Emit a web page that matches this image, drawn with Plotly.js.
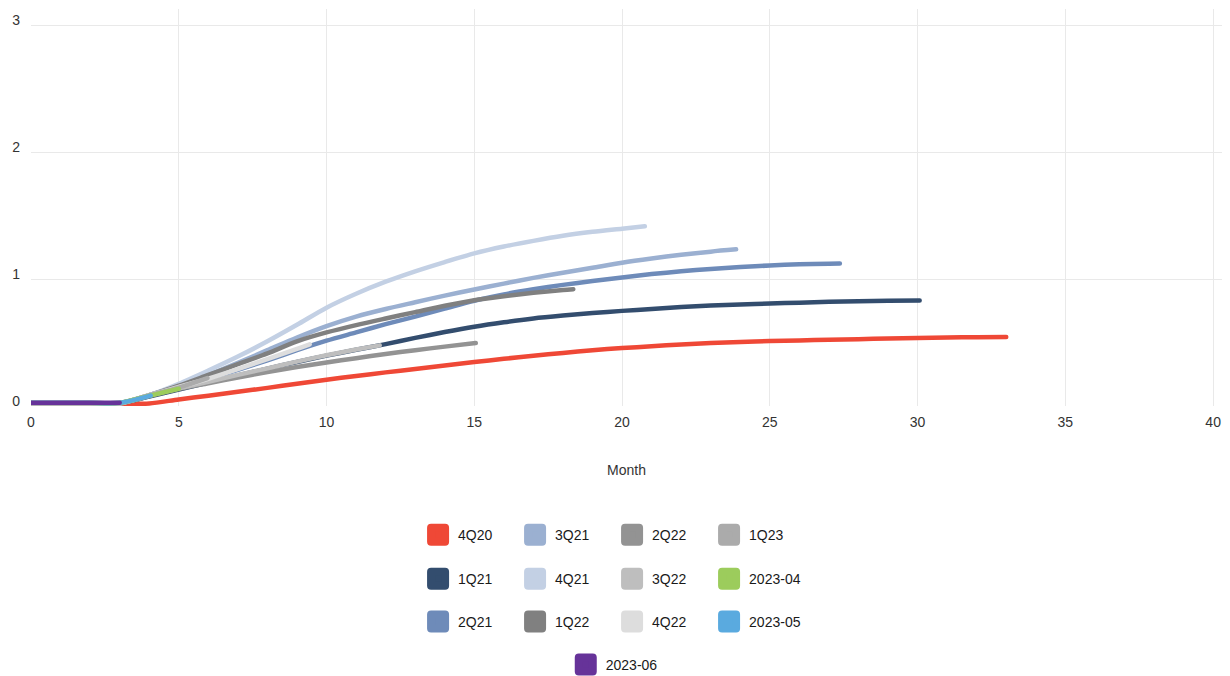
<!DOCTYPE html>
<html>
<head>
<meta charset="utf-8">
<script src="https://cdn.plot.ly/plotly-3.0.1.min.js"></script>
<style>
  html, body { margin: 0; padding: 0; background: #ffffff; }
  #chart { width: 1230px; height: 676px; }
  .legendpoints path { stroke-width: 8px !important; stroke-linejoin: round !important; }
  .scatterlayer .js-line { stroke-linecap: round; stroke-linejoin: round; }
</style>
</head>
<body>
<div id="chart"></div>
<script>
// ---- Data ----
const seriesNames = ["4Q20","1Q21","2Q21","3Q21","4Q21","1Q22","2Q22","3Q22","4Q22","1Q23","2023-04","2023-05","2023-06"];
const seriesColors = ["#EF4836","#334D6E","#6E8BB9","#9BB0D1","#C3D0E4","#808080","#939393","#BEBEBE","#DDDDDD","#ABABAB","#9CCC5C","#5AAADF","#663399"];
const legendRow = ["legend","legend2","legend3","legend","legend2","legend3","legend","legend2","legend3","legend","legend2","legend3","legend4"];

const x_4Q20 = [0,1,2,3,4,5,6,7,8,9,10,11,12,13,14,15,16,17,18,19,20,21,22,23,24,25,26,27,28,29,30,31,32,33];
const y_4Q20 = [0.018,0.018,0.018,0.018,0.02,0.052,0.081,0.112,0.143,0.175,0.207,0.237,0.265,0.292,0.32,0.347,0.372,0.397,0.418,0.44,0.457,0.471,0.485,0.497,0.505,0.512,0.517,0.522,0.527,0.532,0.537,0.54,0.542,0.544];

const x_1Q21 = [0,1,2,3,4,5,6,7,8,9,10,11,12,13,14,15,16,17,18,19,20,21,22,23,24,25,26,27,28,29,30.07];
const y_1Q21 = [0.02,0.02,0.02,0.022,0.075,0.13,0.185,0.24,0.295,0.347,0.397,0.443,0.488,0.537,0.583,0.625,0.66,0.69,0.713,0.733,0.75,0.765,0.78,0.792,0.801,0.808,0.815,0.821,0.826,0.83,0.832];

const x_2Q21 = [0,1,2,3,4,5,6,7,8,9,10,11,12,13,14,15,16,17,18,19,20,21,22,23,24,25,26,27,27.37];
const y_2Q21 = [0.02,0.02,0.02,0.022,0.08,0.15,0.215,0.285,0.36,0.44,0.515,0.58,0.645,0.705,0.768,0.83,0.88,0.92,0.955,0.985,1.013,1.04,1.062,1.08,1.095,1.108,1.117,1.122,1.124];

const x_3Q21 = [0,1,2,3,4,5,6,7,8,9,10,11,12,13,14,15,16,17,18,19,20,21,22,23,23.86];
const y_3Q21 = [0.02,0.02,0.02,0.022,0.085,0.16,0.245,0.34,0.44,0.54,0.63,0.705,0.765,0.818,0.87,0.918,0.965,1.01,1.05,1.09,1.13,1.163,1.192,1.217,1.235];

const x_4Q21 = [0,1,2,3,4,5,6,7,8,9,10,11,12,13,14,15,16,17,18,19,20,20.77];
const y_4Q21 = [0.02,0.02,0.02,0.022,0.085,0.175,0.28,0.39,0.51,0.64,0.775,0.885,0.98,1.062,1.135,1.203,1.257,1.302,1.342,1.373,1.398,1.417];

const x_1Q22 = [0,1,2,3,4,5,6,7,8,9,10,11,12,13,14,15,16,17,18,18.35];
const y_1Q22 = [0.02,0.02,0.02,0.022,0.085,0.16,0.245,0.33,0.415,0.51,0.58,0.638,0.69,0.74,0.79,0.834,0.865,0.892,0.915,0.921];

const x_2Q22 = [0,1,2,3,4,5,6,7,8,9,10,11,12,13,14,15.05];
const y_2Q22 = [0.02,0.02,0.02,0.02,0.08,0.135,0.18,0.225,0.268,0.307,0.343,0.377,0.41,0.44,0.468,0.496];

const x_3Q22 = [0,1,2,3,4,5,6,7,8,9,10,11,11.8];
const y_3Q22 = [0.02,0.02,0.02,0.02,0.085,0.14,0.19,0.245,0.297,0.35,0.40,0.445,0.478];

const x_4Q22 = [0,1,2,3,4,5,6,7,8,9,9.43];
const y_4Q22 = [0.02,0.02,0.02,0.022,0.085,0.15,0.215,0.29,0.37,0.45,0.486];

const x_1Q23 = [0,1,2,3,4,5,5.97];
const y_1Q23 = [0.02,0.02,0.02,0.022,0.085,0.145,0.22];

const x_2023_04 = [0,1,2,3,4,5];
const y_2023_04 = [0.025,0.025,0.025,0.025,0.08,0.136];

const x_2023_05 = [0,1,2,3,4.05];
const y_2023_05 = [0.025,0.025,0.025,0.025,0.082];

const x_2023_06 = [0,1,2,3];
const y_2023_06 = [0.025,0.025,0.025,0.025];

const seriesX = [x_4Q20,x_1Q21,x_2Q21,x_3Q21,x_4Q21,x_1Q22,x_2Q22,x_3Q22,x_4Q22,x_1Q23,x_2023_04,x_2023_05,x_2023_06];
const seriesY = [y_4Q20,y_1Q21,y_2Q21,y_3Q21,y_4Q21,y_1Q22,y_2Q22,y_3Q22,y_4Q22,y_1Q23,y_2023_04,y_2023_05,y_2023_06];

const xTicks = [0,5,10,15,20,25,30,35,40];
const yTicks = [0,1,2,3];

// ---- Traces ----
const FONT = "'Liberation Sans', Arial, Helvetica, sans-serif";
const traces = [];
seriesNames.forEach((name, i) => {
  traces.push({
    type: 'scatter', mode: 'lines', name: name,
    x: seriesX[i], y: seriesY[i],
    line: { color: seriesColors[i], width: 4.5, shape: 'spline', smoothing: 0.8 },
    showlegend: false,
    hovertemplate: name + ': %{y:.2f}<extra></extra>'
  });
});
// legend swatches (rounded squares)
seriesNames.forEach((name, i) => {
  traces.push({
    type: 'scatter', mode: 'markers', name: name,
    x: [null], y: [null],
    marker: { symbol: 'square', size: 14, color: seriesColors[i], line: { color: seriesColors[i], width: 2 } },
    legend: legendRow[i], showlegend: true, hoverinfo: 'skip'
  });
});

function legendCfg(x, y) {
  return {
    orientation: 'h', x: x, xanchor: 'left', y: y, yanchor: 'middle',
    entrywidth: 52, entrywidthmode: 'pixels', itemsizing: 'trace',
    bgcolor: 'rgba(0,0,0,0)', borderwidth: 0,
    font: { family: FONT, size: 14, color: '#1a1a1a' },
    itemclick: false, itemdoubleclick: false
  };
}

const layout = {
  width: 1230, height: 676,
  paper_bgcolor: '#ffffff', plot_bgcolor: '#ffffff',
  margin: { l: 31, r: 8, t: 9, b: 270, autoexpand: false },
  font: { family: FONT, size: 14, color: '#333333' },
  xaxis: {
    range: [0, 40.3], tickvals: xTicks, ticktext: xTicks.map(String),
    showgrid: true, gridcolor: '#e9e9e9', gridwidth: 1,
    zeroline: false, showline: false, ticks: '',
    tickfont: { family: FONT, size: 14, color: '#333333' },
    ticklabelstandoff: 6,
    title: { text: 'Month', font: { family: FONT, size: 14, color: '#333333' }, standoff: 36 },
    automargin: false, fixedrange: true
  },
  yaxis: {
    range: [0, 3.13], tickvals: yTicks, ticktext: yTicks.map(String),
    showgrid: true, gridcolor: '#e9e9e9', gridwidth: 1,
    zeroline: false, showline: false, ticks: '',
    tickfont: { family: FONT, size: 14, color: '#333333' },
    ticklabelshift: -5, ticklabelstandoff: 10,
    automargin: false, fixedrange: true
  },
  legend: legendCfg(0.325, -0.325),
  legend2: legendCfg(0.325, -0.436),
  legend3: legendCfg(0.325, -0.544),
  legend4: legendCfg(0.449, -0.652),
  showlegend: true
};

Plotly.newPlot('chart', traces, layout, { displayModeBar: false, responsive: false });
</script>
</body>
</html>
